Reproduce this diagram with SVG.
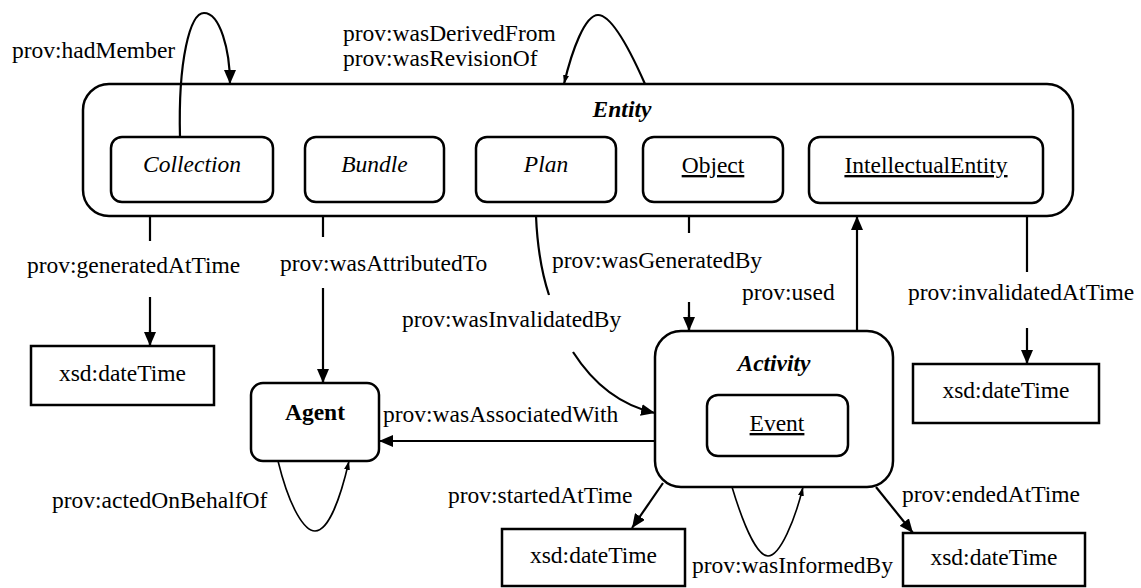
<svg xmlns="http://www.w3.org/2000/svg" width="1141" height="588" viewBox="0 0 1141 588">
<defs>
<style>
text{font-family:"Liberation Serif","Times New Roman",serif;font-size:23.5px;fill:#000}
.c{text-anchor:middle}
.i{font-style:italic}
.b{font-weight:bold}
.u{text-decoration:underline}
.box{fill:#fff;stroke:#000;stroke-width:2.5}
.ln{fill:none;stroke:#000;stroke-width:2.2}
.th{fill:none;stroke:#000;stroke-width:1.6}
</style>
<marker id="a" viewBox="0 0 14 12" refX="14" refY="6" markerWidth="14" markerHeight="12" markerUnits="userSpaceOnUse" orient="auto"><path d="M0,0 L14,6 L0,12 z"/></marker>
<marker id="s" viewBox="0 0 9 6" refX="9" refY="3" markerWidth="9" markerHeight="6" markerUnits="userSpaceOnUse" orient="auto"><path d="M0,0 L9,3 L0,6 z"/></marker>
</defs>
<rect width="1141" height="588" fill="#fff"/>

<g id="entity">
<rect class="box" x="83" y="84" width="990" height="132" rx="26"/>
<text class="c i b" x="622" y="117">Entity</text>
</g>
<g id="collection">
<rect class="box" x="111" y="137" width="162" height="65" rx="11"/>
<text class="c i" x="192" y="172">Collection</text>
</g>
<g id="bundle">
<rect class="box" x="305" y="137" width="139" height="65" rx="11"/>
<text class="c i" x="374.5" y="172">Bundle</text>
</g>
<g id="plan">
<rect class="box" x="476" y="137" width="140" height="65" rx="11"/>
<text class="c i" x="546" y="172">Plan</text>
</g>
<g id="object">
<rect class="box" x="643" y="137" width="140" height="65" rx="11"/>
<text class="c u" x="713" y="173">Object</text>
</g>
<g id="intellectualEntity">
<rect class="box" x="809" y="137" width="234" height="66" rx="11"/>
<text class="c u" x="926" y="173">IntellectualEntity</text>
</g>
<g id="activity">
<rect class="box" x="655" y="331" width="238" height="156" rx="26"/>
<text class="c i b" x="774" y="371">Activity</text>
</g>
<g id="event">
<rect class="box" x="707" y="395" width="141" height="61" rx="11"/>
<text class="c u" x="777" y="431">Event</text>
</g>
<g id="agent">
<rect class="box" x="251" y="383" width="128" height="78" rx="12"/>
<text class="c b" x="315" y="420">Agent</text>
</g>
<g id="dt1">
<rect class="box" x="31" y="346" width="183" height="59"/>
<text class="c" x="122.5" y="381">xsd:dateTime</text>
</g>
<g id="dt2">
<rect class="box" x="913" y="364" width="186" height="59"/>
<text class="c" x="1006" y="398">xsd:dateTime</text>
</g>
<g id="dt3">
<rect class="box" x="502" y="529" width="183" height="57"/>
<text class="c" x="593.5" y="563">xsd:dateTime</text>
</g>
<g id="dt4">
<rect class="box" x="903" y="533" width="182" height="53"/>
<text class="c" x="994" y="565">xsd:dateTime</text>
</g>

<g id="connectors">
<path class="ln" d="M180,137 C178,60 190,13 204,13 C220,13 230,50 230,84" marker-end="url(#a)"/>
<path class="ln" d="M645,84 C630,50 612,15 598,15 C585,15 572,50 564,84" marker-end="url(#s)"/>
<path class="ln" d="M150,216 V241 M150,297 V346"/>
<path class="ln" d="M150,330 V346" marker-end="url(#a)"/>
<path class="ln" d="M323,216 V237 M323,288 V383"/>
<path class="ln" d="M323,370 V383" marker-end="url(#a)"/>
<path class="ln" d="M536,216 Q538,262 549,295"/>
<path class="ln" d="M573,352 Q605,402 655,413" marker-end="url(#a)"/>
<path class="ln" d="M689,216 V233 M689,302 V331"/>
<path class="ln" d="M689,315 V331" marker-end="url(#a)"/>
<path class="ln" d="M857,331 V216" marker-end="url(#a)"/>
<path class="ln" d="M1027,216 V272 M1027,328 V364"/>
<path class="ln" d="M1027,350 V364" marker-end="url(#a)"/>
<path class="ln" d="M655,441 H379" marker-end="url(#a)"/>
<path class="th" d="M278,461 C290,510 305,531 315,531 C328,531 340,500 349,461" marker-end="url(#s)"/>
<path class="ln" d="M663,483 L632,528" marker-end="url(#a)"/>
<path class="th" d="M732,487 C745,530 758,556 768,556 C780,556 795,520 803,487" marker-end="url(#s)"/>
<path class="ln" d="M876,487 L913,533" marker-end="url(#a)"/>
</g>

<g id="labels">
<text x="12" y="58">prov:hadMember</text>
<text x="343" y="41">prov:wasDerivedFrom</text>
<text x="343" y="66">prov:wasRevisionOf</text>
<text x="27" y="273">prov:generatedAtTime</text>
<text x="280" y="271">prov:wasAttributedTo</text>
<text x="552" y="268">prov:wasGeneratedBy</text>
<text x="402" y="327">prov:wasInvalidatedBy</text>
<text x="742" y="300">prov:used</text>
<text x="908" y="300">prov:invalidatedAtTime</text>
<text x="383" y="422">prov:wasAssociatedWith</text>
<text x="52" y="508">prov:actedOnBehalfOf</text>
<text x="448" y="503">prov:startedAtTime</text>
<text x="692" y="573">prov:wasInformedBy</text>
<text x="902" y="502">prov:endedAtTime</text>
</g>
</svg>
